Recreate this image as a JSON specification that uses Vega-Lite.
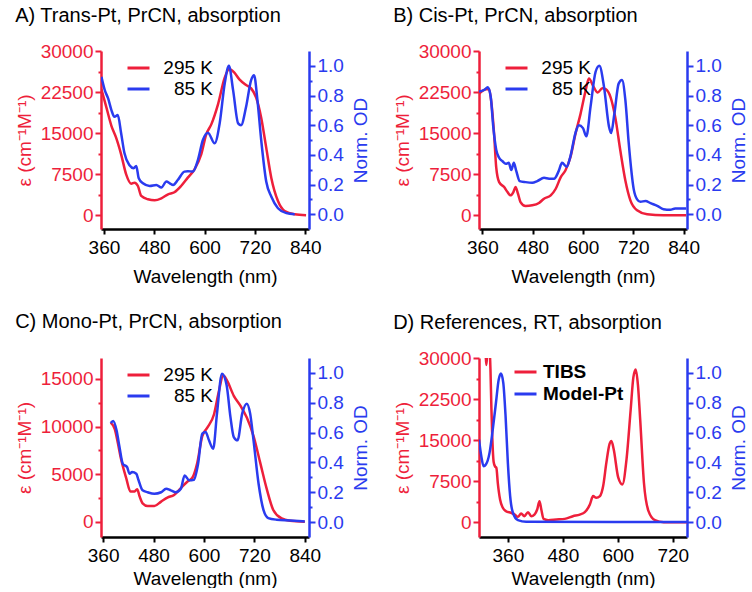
{
"$schema": "https://vega.github.io/schema/vega-lite/v6.json",
"padding": {"left": 15, "top": 6, "right": 2, "bottom": 0},
"config": {"font": "Liberation Sans", "view": {"stroke": null}, "axis": {"grid": false, "labelFontSize": 19, "titleFontSize": 19, "titleFontWeight": "normal", "labelColor": "black", "titleColor": "black", "domainWidth": 2.5, "tickWidth": 2, "domainColor": "black", "tickColor": "black", "labelPadding": 2, "labelOverlap": false, "labelFlush": false}, "title": {"fontSize": 20, "fontWeight": "normal", "anchor": "start", "frame": "bounds", "offset": 16, "color": "black"}},
"datasets": {
"A1": [{"nm":354,"v":23000},{"nm":366,"v":19650},{"nm":378,"v":16300},{"nm":389,"v":14180},{"nm":401,"v":11140},{"nm":413,"v":7480},{"nm":425,"v":5780},{"nm":433,"v":5960},{"nm":441,"v":5350},{"nm":449,"v":3530},{"nm":465,"v":2920},{"nm":481,"v":2740},{"nm":497,"v":3100},{"nm":513,"v":3830},{"nm":528,"v":4200},{"nm":544,"v":5350},{"nm":560,"v":6880},{"nm":576,"v":8400},{"nm":592,"v":11140},{"nm":604,"v":14790},{"nm":616,"v":16600},{"nm":632,"v":20260},{"nm":648,"v":25130},{"nm":659,"v":26700},{"nm":671,"v":26040},{"nm":683,"v":24830},{"nm":699,"v":23790},{"nm":711,"v":23180},{"nm":723,"v":21480},{"nm":735,"v":17830},{"nm":747,"v":12350},{"nm":759,"v":6880},{"nm":775,"v":2620},{"nm":791,"v":790},{"nm":815,"v":180},{"nm":842,"v":0}],
"A2": [{"nm":354,"v":0.926},{"nm":362,"v":0.836},{"nm":370,"v":0.78},{"nm":378,"v":0.70},{"nm":385,"v":0.657},{"nm":393,"v":0.668},{"nm":401,"v":0.545},{"nm":409,"v":0.41},{"nm":421,"v":0.33},{"nm":431,"v":0.31},{"nm":437,"v":0.325},{"nm":443,"v":0.242},{"nm":453,"v":0.208},{"nm":469,"v":0.19},{"nm":485,"v":0.197},{"nm":497,"v":0.18},{"nm":509,"v":0.22},{"nm":517,"v":0.208},{"nm":525,"v":0.197},{"nm":536,"v":0.23},{"nm":552,"v":0.287},{"nm":560,"v":0.29},{"nm":572,"v":0.287},{"nm":584,"v":0.365},{"nm":596,"v":0.5},{"nm":608,"v":0.549},{"nm":624,"v":0.478},{"nm":636,"v":0.612},{"nm":648,"v":0.881},{"nm":658,"v":1.0},{"nm":668,"v":0.836},{"nm":680,"v":0.612},{"nm":687,"v":0.60},{"nm":699,"v":0.724},{"nm":711,"v":0.904},{"nm":718,"v":0.937},{"nm":726,"v":0.769},{"nm":735,"v":0.50},{"nm":747,"v":0.22},{"nm":759,"v":0.119},{"nm":775,"v":0.04},{"nm":795,"v":0.007},{"nm":815,"v":0}],
"B1": [{"nm":352,"v":22200},{"nm":360,"v":22700},{"nm":368,"v":23030},{"nm":376,"v":23030},{"nm":381,"v":20900},{"nm":388,"v":14850},{"nm":393,"v":8790},{"nm":400,"v":6060},{"nm":412,"v":5150},{"nm":420,"v":4240},{"nm":427,"v":3640},{"nm":434,"v":4240},{"nm":439,"v":5150},{"nm":445,"v":3940},{"nm":451,"v":2420},{"nm":463,"v":1700},{"nm":479,"v":1820},{"nm":495,"v":2240},{"nm":507,"v":3030},{"nm":523,"v":3640},{"nm":535,"v":4850},{"nm":547,"v":6970},{"nm":558,"v":8180},{"nm":570,"v":10600},{"nm":582,"v":14850},{"nm":594,"v":18480},{"nm":606,"v":22700},{"nm":614,"v":25000},{"nm":626,"v":23330},{"nm":635,"v":22420},{"nm":646,"v":23200},{"nm":654,"v":23030},{"nm":666,"v":21500},{"nm":677,"v":17880},{"nm":689,"v":11820},{"nm":701,"v":6360},{"nm":713,"v":2730},{"nm":729,"v":910},{"nm":753,"v":180},{"nm":792,"v":0},{"nm":846,"v":0}],
"B2": [{"nm":352,"v":0.826},{"nm":364,"v":0.837},{"nm":373,"v":0.855},{"nm":380,"v":0.79},{"nm":386,"v":0.59},{"nm":393,"v":0.435},{"nm":400,"v":0.38},{"nm":408,"v":0.357},{"nm":416,"v":0.34},{"nm":423,"v":0.346},{"nm":429,"v":0.297},{"nm":435,"v":0.346},{"nm":441,"v":0.29},{"nm":449,"v":0.223},{"nm":463,"v":0.216},{"nm":479,"v":0.212},{"nm":491,"v":0.223},{"nm":507,"v":0.245},{"nm":519,"v":0.239},{"nm":531,"v":0.239},{"nm":542,"v":0.29},{"nm":550,"v":0.346},{"nm":561,"v":0.319},{"nm":570,"v":0.39},{"nm":582,"v":0.547},{"nm":590,"v":0.60},{"nm":600,"v":0.58},{"nm":608,"v":0.525},{"nm":618,"v":0.725},{"nm":630,"v":0.96},{"nm":639,"v":1.0},{"nm":650,"v":0.86},{"nm":662,"v":0.59},{"nm":667,"v":0.547},{"nm":675,"v":0.68},{"nm":685,"v":0.88},{"nm":693,"v":0.904},{"nm":701,"v":0.77},{"nm":709,"v":0.48},{"nm":721,"v":0.167},{"nm":729,"v":0.10},{"nm":737,"v":0.083},{"nm":749,"v":0.089},{"nm":761,"v":0.074},{"nm":777,"v":0.056},{"nm":792,"v":0.033},{"nm":808,"v":0.029},{"nm":820,"v":0.038},{"nm":846,"v":0.038}],
"C1": [{"nm":378,"v":10410},{"nm":388,"v":9700},{"nm":395,"v":8290},{"nm":403,"v":6530},{"nm":415,"v":4590},{"nm":425,"v":3180},{"nm":435,"v":3180},{"nm":441,"v":3420},{"nm":447,"v":2650},{"nm":454,"v":1940},{"nm":466,"v":1660},{"nm":482,"v":1660},{"nm":498,"v":2120},{"nm":513,"v":2540},{"nm":529,"v":2820},{"nm":545,"v":3530},{"nm":561,"v":4230},{"nm":572,"v":4590},{"nm":584,"v":6180},{"nm":596,"v":9000},{"nm":608,"v":9880},{"nm":624,"v":11290},{"nm":635,"v":13590},{"nm":646,"v":15350},{"nm":655,"v":14820},{"nm":671,"v":13230},{"nm":687,"v":12180},{"nm":702,"v":10940},{"nm":718,"v":9000},{"nm":734,"v":6180},{"nm":750,"v":3350},{"nm":765,"v":1240},{"nm":785,"v":350},{"nm":805,"v":110},{"nm":840,"v":0}],
"C2": [{"nm":378,"v":0.664},{"nm":384,"v":0.678},{"nm":392,"v":0.615},{"nm":399,"v":0.503},{"nm":407,"v":0.39},{"nm":417,"v":0.369},{"nm":423,"v":0.324},{"nm":429,"v":0.336},{"nm":439,"v":0.324},{"nm":444,"v":0.284},{"nm":454,"v":0.213},{"nm":466,"v":0.2},{"nm":482,"v":0.19},{"nm":498,"v":0.2},{"nm":510,"v":0.224},{"nm":521,"v":0.213},{"nm":533,"v":0.2},{"nm":545,"v":0.224},{"nm":554,"v":0.313},{"nm":565,"v":0.28},{"nm":576,"v":0.284},{"nm":586,"v":0.39},{"nm":596,"v":0.593},{"nm":604,"v":0.604},{"nm":612,"v":0.548},{"nm":622,"v":0.492},{"nm":631,"v":0.727},{"nm":643,"v":0.995},{"nm":654,"v":0.917},{"nm":663,"v":0.705},{"nm":671,"v":0.57},{"nm":680,"v":0.548},{"nm":691,"v":0.727},{"nm":702,"v":0.794},{"nm":710,"v":0.727},{"nm":718,"v":0.548},{"nm":730,"v":0.257},{"nm":742,"v":0.078},{"nm":753,"v":0.027},{"nm":773,"v":0.016},{"nm":805,"v":0.011},{"nm":840,"v":0.004}],
"D1": [{"nm":305,"v":36000},{"nm":311,"v":31500},{"nm":313,"v":28700},{"nm":315,"v":31000},{"nm":318,"v":34000},{"nm":320,"v":32000},{"nm":322,"v":28000},{"nm":324,"v":21000},{"nm":326,"v":15500},{"nm":329,"v":11000},{"nm":332,"v":10200},{"nm":335,"v":9900},{"nm":338,"v":7200},{"nm":343,"v":4150},{"nm":349,"v":2630},{"nm":356,"v":2020},{"nm":367,"v":1710},{"nm":375,"v":1400},{"nm":382,"v":980},{"nm":389,"v":1590},{"nm":396,"v":1100},{"nm":404,"v":1830},{"nm":411,"v":1100},{"nm":418,"v":1400},{"nm":424,"v":2320},{"nm":429,"v":3850},{"nm":433,"v":2320},{"nm":438,"v":610},{"nm":448,"v":370},{"nm":466,"v":490},{"nm":484,"v":610},{"nm":502,"v":1100},{"nm":517,"v":1400},{"nm":528,"v":1830},{"nm":539,"v":3240},{"nm":546,"v":4770},{"nm":553,"v":4460},{"nm":561,"v":4770},{"nm":568,"v":6600},{"nm":575,"v":10880},{"nm":582,"v":14300},{"nm":586,"v":14850},{"nm":591,"v":13320},{"nm":601,"v":8130},{"nm":610,"v":6900},{"nm":619,"v":11490},{"nm":628,"v":20500},{"nm":634,"v":26500},{"nm":639,"v":27900},{"nm":644,"v":25000},{"nm":649,"v":18500},{"nm":657,"v":7210},{"nm":667,"v":2020},{"nm":681,"v":370},{"nm":700,"v":0},{"nm":751,"v":0}],
"D2": [{"nm":297,"v":0.553},{"nm":302,"v":0.442},{"nm":307,"v":0.375},{"nm":312,"v":0.386},{"nm":320,"v":0.464},{"nm":327,"v":0.62},{"nm":334,"v":0.80},{"nm":340,"v":0.955},{"nm":345,"v":0.996},{"nm":350,"v":0.933},{"nm":355,"v":0.71},{"nm":360,"v":0.397},{"nm":365,"v":0.174},{"nm":371,"v":0.0625},{"nm":382,"v":0.013},{"nm":400,"v":0.002},{"nm":751,"v":0}]
},
"resolve": {"scale": {"color": "independent"}, "legend": {"color": "independent"}},
"vconcat": [
{"hconcat": [
{"title": {"text": "A) Trans-Pt, PrCN, absorption"}, "width": 208, "height": 178,
 "layer": [
  {"data": {"name": "A1"}, "mark": {"type": "line", "strokeWidth": 2.5, "clip": true, "interpolate": "monotone"},
   "encoding": {
    "x": {"field": "nm", "type": "quantitative", "scale": {"domain": [353, 849], "nice": false, "zero": false}, "axis": {"title": "Wavelength (nm)", "values": [360,420,480,540,600,660,720,780,840], "labelExpr": "datum.value % 120 === 0 ? datum.label : ''", "tickSize": {"condition": {"test": "datum.value % 120 === 0", "value": 5}, "value": 3}, "labelPadding": 4, "titlePadding": 10}},
    "y": {"field": "v", "type": "quantitative", "scale": {"domain": [-2500, 30000], "nice": false, "zero": false}, "axis": {"orient": "left", "title": "ε (cm⁻¹M⁻¹)", "values": [0,3750,7500,11250,15000,18750,22500,26250,30000], "format": "d", "labelExpr": "datum.value % 7500 === 0 ? datum.label : ''", "tickSize": {"condition": {"test": "datum.value % 7500 === 0", "value": 6}, "value": 3}, "domainColor": "#ee1f3b", "tickColor": "#ee1f3b", "labelColor": "#ee1f3b", "titleColor": "#ee1f3b", "titlePadding": 6}},
    "color": {"datum": "295 K", "type": "nominal", "scale": {"domain": ["295 K", "85 K"], "range": ["#ee1f3b", "#2a3bef"]}, "legend": {"orient": "none", "legendX": 25, "legendY": 9, "title": null, "symbolType": "stroke", "symbolSize": 484, "symbolStrokeWidth": 3, "labelFontSize": 19, "labelAlign": "right", "labelOffset": 62, "labelColor": "black", "clipHeight": 16, "rowPadding": 2, "padding": 0}}
   }},
  {"data": {"name": "A2"}, "mark": {"type": "line", "strokeWidth": 2.5, "clip": true, "interpolate": "monotone"},
   "encoding": {
    "x": {"field": "nm", "type": "quantitative"},
    "y": {"field": "v", "type": "quantitative", "scale": {"domain": [-0.1, 1.1], "nice": false, "zero": false}, "axis": {"orient": "right", "title": "Norm. OD", "titleAngle": 270, "titleBaseline": "top", "values": [0,0.1,0.2,0.3,0.4,0.5,0.6,0.7,0.8,0.9,1.0], "labelExpr": "round(datum.value*10) % 2 === 0 ? format(datum.value, '.1f') : ''", "tickSize": {"condition": {"test": "round(datum.value*10) % 2 === 0", "value": 6}, "value": 3}, "domainColor": "#2a3bef", "tickColor": "#2a3bef", "labelColor": "#2a3bef", "titleColor": "#2a3bef", "titlePadding": 8}},
    "color": {"datum": "85 K", "type": "nominal"}
   }}
 ],
 "resolve": {"scale": {"y": "independent"}}
},
{"title": {"text": "B) Cis-Pt, PrCN, absorption"}, "width": 208, "height": 178,
 "layer": [
  {"data": {"name": "B1"}, "mark": {"type": "line", "strokeWidth": 2.5, "clip": true, "interpolate": "monotone"},
   "encoding": {
    "x": {"field": "nm", "type": "quantitative", "scale": {"domain": [352, 848], "nice": false, "zero": false}, "axis": {"title": "Wavelength (nm)", "values": [360,420,480,540,600,660,720,780,840], "labelExpr": "datum.value % 120 === 0 ? datum.label : ''", "tickSize": {"condition": {"test": "datum.value % 120 === 0", "value": 5}, "value": 3}, "labelPadding": 4, "titlePadding": 10}},
    "y": {"field": "v", "type": "quantitative", "scale": {"domain": [-2500, 30000], "nice": false, "zero": false}, "axis": {"orient": "left", "title": "ε (cm⁻¹M⁻¹)", "values": [0,3750,7500,11250,15000,18750,22500,26250,30000], "format": "d", "labelExpr": "datum.value % 7500 === 0 ? datum.label : ''", "tickSize": {"condition": {"test": "datum.value % 7500 === 0", "value": 6}, "value": 3}, "domainColor": "#ee1f3b", "tickColor": "#ee1f3b", "labelColor": "#ee1f3b", "titleColor": "#ee1f3b", "titlePadding": 6}},
    "color": {"datum": "295 K", "type": "nominal", "scale": {"domain": ["295 K", "85 K"], "range": ["#ee1f3b", "#2a3bef"]}, "legend": {"orient": "none", "legendX": 25, "legendY": 9, "title": null, "symbolType": "stroke", "symbolSize": 484, "symbolStrokeWidth": 3, "labelFontSize": 19, "labelAlign": "right", "labelOffset": 62, "labelColor": "black", "clipHeight": 16, "rowPadding": 2, "padding": 0}}
   }},
  {"data": {"name": "B2"}, "mark": {"type": "line", "strokeWidth": 2.5, "clip": true, "interpolate": "monotone"},
   "encoding": {
    "x": {"field": "nm", "type": "quantitative"},
    "y": {"field": "v", "type": "quantitative", "scale": {"domain": [-0.1, 1.1], "nice": false, "zero": false}, "axis": {"orient": "right", "title": "Norm. OD", "titleAngle": 270, "titleBaseline": "top", "values": [0,0.1,0.2,0.3,0.4,0.5,0.6,0.7,0.8,0.9,1.0], "labelExpr": "round(datum.value*10) % 2 === 0 ? format(datum.value, '.1f') : ''", "tickSize": {"condition": {"test": "round(datum.value*10) % 2 === 0", "value": 6}, "value": 3}, "domainColor": "#2a3bef", "tickColor": "#2a3bef", "labelColor": "#2a3bef", "titleColor": "#2a3bef", "titlePadding": 8}},
    "color": {"datum": "85 K", "type": "nominal"}
   }}
 ],
 "resolve": {"scale": {"y": "independent"}}
}
], "spacing": 22, "resolve": {"scale": {"color": "independent"}, "legend": {"color": "independent"}}},
{"hconcat": [
{"title": {"text": "C) Mono-Pt, PrCN, absorption", "offset": 26}, "width": 208, "height": 179,
 "layer": [
  {"data": {"name": "C1"}, "mark": {"type": "line", "strokeWidth": 2.5, "clip": true, "interpolate": "monotone"},
   "encoding": {
    "x": {"field": "nm", "type": "quantitative", "scale": {"domain": [355, 850], "nice": false, "zero": false}, "axis": {"title": "Wavelength (nm)", "values": [360,420,480,540,600,660,720,780,840], "labelExpr": "datum.value % 120 === 0 ? datum.label : ''", "tickSize": {"condition": {"test": "datum.value % 120 === 0", "value": 5}, "value": 3}, "labelPadding": 4, "titlePadding": 4}},
    "y": {"field": "v", "type": "quantitative", "scale": {"domain": [-1600, 17200], "nice": false, "zero": false}, "axis": {"orient": "left", "title": "ε (cm⁻¹M⁻¹)", "values": [0,2500,5000,7500,10000,12500,15000], "format": "d", "labelExpr": "datum.value % 5000 === 0 ? datum.label : ''", "tickSize": {"condition": {"test": "datum.value % 5000 === 0", "value": 6}, "value": 3}, "domainColor": "#ee1f3b", "tickColor": "#ee1f3b", "labelColor": "#ee1f3b", "titleColor": "#ee1f3b", "titlePadding": 6}},
    "color": {"datum": "295 K", "type": "nominal", "scale": {"domain": ["295 K", "85 K"], "range": ["#ee1f3b", "#2a3bef"]}, "legend": {"orient": "none", "legendX": 25, "legendY": 9, "title": null, "symbolType": "stroke", "symbolSize": 484, "symbolStrokeWidth": 3, "labelFontSize": 19, "labelAlign": "right", "labelOffset": 62, "labelColor": "black", "clipHeight": 16, "rowPadding": 2, "padding": 0}}
   }},
  {"data": {"name": "C2"}, "mark": {"type": "line", "strokeWidth": 2.5, "clip": true, "interpolate": "monotone"},
   "encoding": {
    "x": {"field": "nm", "type": "quantitative"},
    "y": {"field": "v", "type": "quantitative", "scale": {"domain": [-0.1, 1.1], "nice": false, "zero": false}, "axis": {"orient": "right", "title": "Norm. OD", "titleAngle": 270, "titleBaseline": "top", "values": [0,0.1,0.2,0.3,0.4,0.5,0.6,0.7,0.8,0.9,1.0], "labelExpr": "round(datum.value*10) % 2 === 0 ? format(datum.value, '.1f') : ''", "tickSize": {"condition": {"test": "round(datum.value*10) % 2 === 0", "value": 6}, "value": 3}, "domainColor": "#2a3bef", "tickColor": "#2a3bef", "labelColor": "#2a3bef", "titleColor": "#2a3bef", "titlePadding": 8}},
    "color": {"datum": "85 K", "type": "nominal"}
   }}
 ],
 "resolve": {"scale": {"y": "independent"}}
},
{"title": {"text": "D) References, RT, absorption"}, "width": 208, "height": 179,
 "layer": [
  {"data": {"name": "D1"}, "mark": {"type": "line", "strokeWidth": 2.5, "clip": true, "interpolate": "monotone"},
   "encoding": {
    "x": {"field": "nm", "type": "quantitative", "scale": {"domain": [297, 751], "nice": false, "zero": false}, "axis": {"title": "Wavelength (nm)", "values": [360,420,480,540,600,660,720], "labelExpr": "datum.value % 120 === 0 ? datum.label : ''", "tickSize": {"condition": {"test": "datum.value % 120 === 0", "value": 5}, "value": 3}, "labelPadding": 4, "titlePadding": 4}},
    "y": {"field": "v", "type": "quantitative", "scale": {"domain": [-2700, 30000], "nice": false, "zero": false}, "axis": {"orient": "left", "title": "ε (cm⁻¹M⁻¹)", "values": [0,3750,7500,11250,15000,18750,22500,26250,30000], "format": "d", "labelExpr": "datum.value % 7500 === 0 ? datum.label : ''", "tickSize": {"condition": {"test": "datum.value % 7500 === 0", "value": 6}, "value": 3}, "domainColor": "#ee1f3b", "tickColor": "#ee1f3b", "labelColor": "#ee1f3b", "titleColor": "#ee1f3b", "titlePadding": 6}},
    "color": {"datum": "TIBS", "type": "nominal", "scale": {"domain": ["TIBS", "Model-Pt"], "range": ["#ee1f3b", "#2a3bef"]}, "legend": {"orient": "none", "legendX": 34, "legendY": 4, "title": null, "symbolType": "stroke", "symbolSize": 484, "symbolStrokeWidth": 3, "labelFontSize": 19, "labelFontWeight": "bold", "labelOffset": 5, "labelColor": "black", "clipHeight": 20, "rowPadding": 2, "padding": 0}}
   }},
  {"data": {"name": "D2"}, "mark": {"type": "line", "strokeWidth": 2.5, "clip": true, "interpolate": "monotone"},
   "encoding": {
    "x": {"field": "nm", "type": "quantitative"},
    "y": {"field": "v", "type": "quantitative", "scale": {"domain": [-0.1, 1.1], "nice": false, "zero": false}, "axis": {"orient": "right", "title": "Norm. OD", "titleAngle": 270, "titleBaseline": "top", "values": [0,0.1,0.2,0.3,0.4,0.5,0.6,0.7,0.8,0.9,1.0], "labelExpr": "round(datum.value*10) % 2 === 0 ? format(datum.value, '.1f') : ''", "tickSize": {"condition": {"test": "round(datum.value*10) % 2 === 0", "value": 6}, "value": 3}, "domainColor": "#2a3bef", "tickColor": "#2a3bef", "labelColor": "#2a3bef", "titleColor": "#2a3bef", "titlePadding": 8}},
    "color": {"datum": "Model-Pt", "type": "nominal"}
   }}
 ],
 "resolve": {"scale": {"y": "independent"}}
}
], "spacing": 22, "resolve": {"scale": {"color": "independent"}, "legend": {"color": "independent"}}}
],
"spacing": 26
}
